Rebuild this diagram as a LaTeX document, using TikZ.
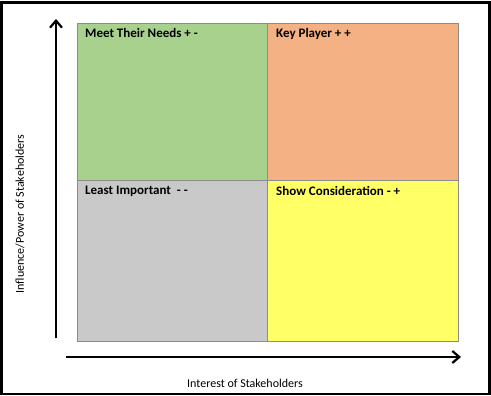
\documentclass[tikz,border=0pt]{standalone}
\usepackage{fontspec}
\setmainfont{Carlito}
\usetikzlibrary{arrows.meta}
\definecolor{qgreen}{HTML}{A9D18E}
\definecolor{qorange}{HTML}{F4B183}
\definecolor{qgray}{HTML}{C9C9C9}
\definecolor{qyellow}{HTML}{FFFF66}
\definecolor{qedge}{HTML}{8C8C8C}
\begin{document}
\begin{tikzpicture}[x=1pt,y=-1pt,
  quad/.style={draw=qedge,line width=0.8pt,minimum width=190pt,anchor=north west,inner sep=0pt},
  qlabel/.style={anchor=north west,font=\bfseries\fontsize{13}{15}\selectfont,inner sep=0pt},
  axislabel/.style={font=\fontsize{12}{14}\selectfont,inner sep=0pt},
  axis/.style={line width=2.2pt,-{Straight Barb[length=7pt,width=12pt,line width=2.2pt]}}]
\useasboundingbox (0,0) rectangle (491,396);
\draw[line width=2.5pt] (1.5,2.5) rectangle (489.5,394);
\node[quad,fill=qgreen,minimum height=157pt] (tl) at (77,23) {};
\node[quad,fill=qorange,minimum height=157pt,minimum width=191pt] (tr) at (267,23) {};
\node[quad,fill=qgray,minimum height=161pt] (bl) at (77,180) {};
\node[quad,fill=qyellow,minimum height=161pt,minimum width=191pt] (br) at (267,180) {};
\node[qlabel] (l1) at (85,28) {Meet Their Needs + -};
\node[qlabel] (l2) at (276,28) {Key Player + +};
\node[qlabel] (l3) at (85,186) {Least Important \ - -};
\node[qlabel] (l4) at (276,186) {Show Consideration - +};
\coordinate (ys) at (56,338);
\coordinate (ye) at (56,19);
\coordinate (xs) at (66,357);
\coordinate (xe) at (461,357);
\draw[axis] (ys) -- (ye);
\draw[axis] (xs) -- (xe);
\node[axislabel] (xl) at (245,383) {Interest of Stakeholders};
\node[axislabel,rotate=90] (yl) at (20,214) {Influence/Power of Stakeholders};
\end{tikzpicture}
\end{document}
